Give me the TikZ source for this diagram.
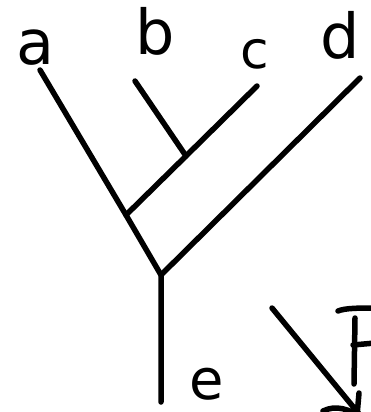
\documentclass[tikz,border=0pt]{standalone}
\usepackage{fontspec}
\setmainfont{DejaVu Sans}
\begin{document}
\begin{tikzpicture}[x=1pt,y=-1pt,
  stroke/.style={line width=5.5pt,line cap=round,line join=round},
  leaf/.style={inner sep=0pt,font=\fontsize{62}{62}\selectfont}]
\useasboundingbox (0,0) rectangle (370,412);
% leaf labels
\node[leaf] (la) at (35,48) {a};
\node[leaf] (lb) at (155,31) {b};
\node[leaf,font=\fontsize{52}{52}\selectfont] (lc) at (255,54) {c};
\node[leaf] (ld) at (340,35) {d};
\node[leaf,font=\fontsize{56}{56}\selectfont] (le) at (207,384) {e};
% tree points
\coordinate (ta) at (40,70);
\coordinate (tb) at (135,81);
\coordinate (tc) at (257,86);
\coordinate (td) at (360,78);
\coordinate (root) at (161,275);
\coordinate (j1) at (126,215);
\coordinate (j2) at (186,156);
\coordinate (bot) at (161,402);
\draw[stroke] (ta) -- (j1) -- (root);
\draw[stroke] (j1) -- (j2) -- (tc);
\draw[stroke] (tb) -- (j2);
\draw[stroke] (td) -- (root) -- (bot);
% partial mark at bottom right
\coordinate (s0) at (272,308);
\coordinate (s1) at (364,420);
\draw[stroke] (s0) -- (s1);
\draw[stroke] (323,411) .. controls (335,405) and (350,408) .. (364,420);
\draw[stroke] (359,393) -- (357,416);
% F (cut off at the edge)
\draw[stroke] (338,311) .. controls (345,308) and (360,308) .. (375,308);
\draw[stroke] (355,318) -- (354,384);
\draw[stroke] (353,345) -- (375,343);
\end{tikzpicture}
\end{document}
